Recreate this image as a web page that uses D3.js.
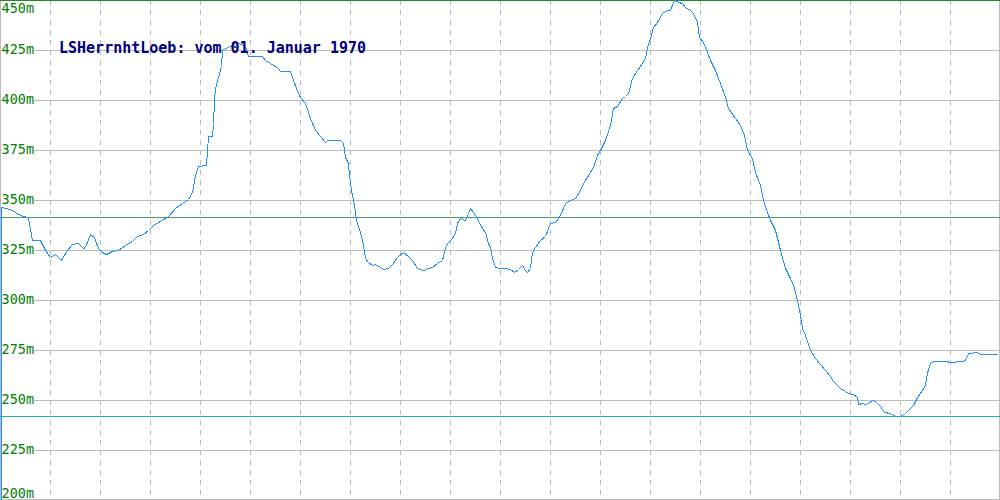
<!DOCTYPE html>
<html>
<head>
<meta charset="utf-8">
<script src="https://cdn.jsdelivr.net/npm/d3@7"></script>
<style>
html,body{margin:0;padding:0;background:#fff;}
svg{display:block;}
</style>
</head>
<body>
<svg id="chart" width="1000" height="500"></svg>
<script>
// ---- data ----
const titleText = "LSHerrnhtLoeb: vom 01. Januar 1970";
const yTicks = [450, 425, 400, 375, 350, 325, 300, 275, 250, 225, 200];
const tickSuffix = "m";
const xGrid = [50,100,150,200,250,300,350,400,450,500,550,600,650,700,750,800,850,900,950];
const refLevels = [341.5];   // green reference line
const minLevel = [242];      // teal minimum line
const distance = [1,1,10,15,20,27,28,32,40,45,50,55,61,67,72,78,83,85,90,94,98,102,106,112,118,125,132,137,143,148,153,160,168,175,182,188,192,195,198,206,208,212,213,214,215,218,221,222,225,230,233,235,240,245,248,262,265,270,278,280,290,293,296,300,305,310,315,320,325,327,340,343,345,348,349,351,354,356,360,363,365,368,372,375,380,383,388,392,397,403,408,412,417,423,428,432,437,442,445,447,452,455,457,460,465,468,470,473,477,480,485,488,490,492,495,500,505,510,514,518,522,525,527,530,532,535,540,545,550,555,560,565,570,575,580,583,590,593,597,600,605,610,613,617,622,625,628,632,637,642,645,647,650,653,657,662,667,670,673,675,678,682,685,690,693,697,699,703,707,710,715,720,725,728,735,740,744,747,752,755,760,763,767,770,775,780,785,790,793,797,800,802,805,810,815,820,825,830,833,840,845,848,853,857,858,862,865,868,872,875,880,884,890,895,900,905,913,917,922,925,927,928,930,933,946,950,962,965,968,977,980,997];
const elevation = [200,346.5,345.5,344,342.5,341.5,341,330,330,325,321.5,323,320,325,328,328.5,326,326.5,333,331.5,326,324,323,324.5,325,327.5,329.5,332,333,335,337.5,339.5,342,346,348.5,350.5,354,362.5,367,367.5,382,382,388,400,406,411.5,417,425,426,427,427,429.5,428,427,422,422,420,418.5,416,414.5,414.5,410,406,401.5,398.5,391,385,382,379,380,380,378.5,371.5,368.5,362.5,355,347.5,340,334,327.5,321,319,317.5,318,316.5,315.5,316,318,321.5,324,322,320,316,315,316,316.5,318.5,320,326,328.5,331,333.5,338.5,341,340,343.5,346,344,341,337.5,334,328.5,326.5,321,316.5,316,316,315.5,314,315.5,317.5,315,314,316,324,326.5,330,332,338.5,339,342.5,348.5,350,351,355,358.5,364,366.5,372.5,375,380,387.5,396,397,401,402,403.5,411,415,418.5,421,426.5,431,436.5,439,443.5,445,445,449,450,449,448.5,446.5,445,443.5,439,431.5,429,424,420,415,408.5,401.5,396,391,387.5,382.5,375,371,364,357.5,350,344,340,335,325,316,311,307.5,300,292.5,286,282.5,275,271,268,265,262,259.5,256,254.5,253.5,253,251.5,248,248.5,248,248.5,250,249.5,247,244,243.5,242,242,243.5,247.5,251.5,255,257.5,263.5,265.5,268.5,269.5,269.5,269,269.5,270,273.5,274,273,273];

// ---- chart ----
const W = 1000, H = 500;
const svg = d3.select("#chart");
const x = d3.scaleLinear().domain([0, 1000]).range([0, W]);
const y = d3.scaleLinear().domain([200, 450]).range([H, 0]);
const crisp = v => Math.round(v) + 0.5;

const g = svg.append("g").attr("shape-rendering", "crispEdges");

// vertical dashed grid
g.selectAll("line.vg").data(xGrid).enter().append("line")
  .attr("x1", d => crisp(x(d))).attr("x2", d => crisp(x(d)))
  .attr("y1", 0).attr("y2", H)
  .attr("stroke", "#bbbbbb").attr("stroke-dasharray", "5,5");

// horizontal grid
g.selectAll("line.hg").data(yTicks.filter(d => d < 450 && d > 200)).enter().append("line")
  .attr("x1", 0).attr("x2", W)
  .attr("y1", d => crisp(y(d))).attr("y2", d => crisp(y(d)))
  .attr("stroke", "#bbbbbb");

// frame
g.append("line").attr("x1", 0.5).attr("x2", 0.5).attr("y1", 0).attr("y2", H).attr("stroke", "#bbbbbb");
g.append("line").attr("x1", W - 0.5).attr("x2", W - 0.5).attr("y1", 0).attr("y2", H).attr("stroke", "#bbbbbb");
g.append("line").attr("x1", 0).attr("x2", W).attr("y1", H - 0.5).attr("y2", H - 0.5).attr("stroke", "#bbbbbb");
g.append("line").attr("x1", 0).attr("x2", W).attr("y1", 0.5).attr("y2", 0.5).attr("stroke", "#1e8c1e");

// reference lines
g.selectAll("line.ref").data(refLevels).enter().append("line")
  .attr("x1", 0).attr("x2", W)
  .attr("y1", d => crisp(y(d))).attr("y2", d => crisp(y(d)))
  .attr("stroke", "#4a9e64");
g.selectAll("line.min").data(minLevel).enter().append("line")
  .attr("x1", 0).attr("x2", W)
  .attr("y1", d => crisp(y(d))).attr("y2", d => crisp(y(d)))
  .attr("stroke", "#20b2aa");

// profile line
const pts = distance.map((d, i) => [d, elevation[i]]);
const line = d3.line().x(d => x(d[0]) + 0.5).y(d => y(d[1]) + 0.5);
g.append("path").datum(pts)
  .attr("d", line)
  .attr("fill", "none")
  .attr("stroke", "#1e90ff")
  .attr("stroke-width", 1);

// y labels with white background
const lab = svg.append("g");
yTicks.forEach(t => {
  const yy = Math.max(13, Math.min(498, y(t) + 4));
  const txt = t + tickSuffix;
  const w = txt.length * 8.1;
  lab.append("rect").attr("x", 2).attr("y", yy - 10).attr("width", w).attr("height", 11)
    .attr("fill", "#fff");
  lab.append("text").attr("x", 1.5).attr("y", yy)
    .attr("font-family", "DejaVu Sans Mono, monospace")
    .attr("font-size", "13.5px")
    .attr("fill", "#008000")
    .text(txt);
});

// title
svg.append("text")
  .attr("x", 59).attr("y", 53)
  .attr("font-family", "DejaVu Sans Mono, monospace")
  .attr("font-size", "15px")
  .attr("font-weight", "bold")
  .attr("fill", "#000080")
  .text(titleText);
</script>
</body>
</html>
